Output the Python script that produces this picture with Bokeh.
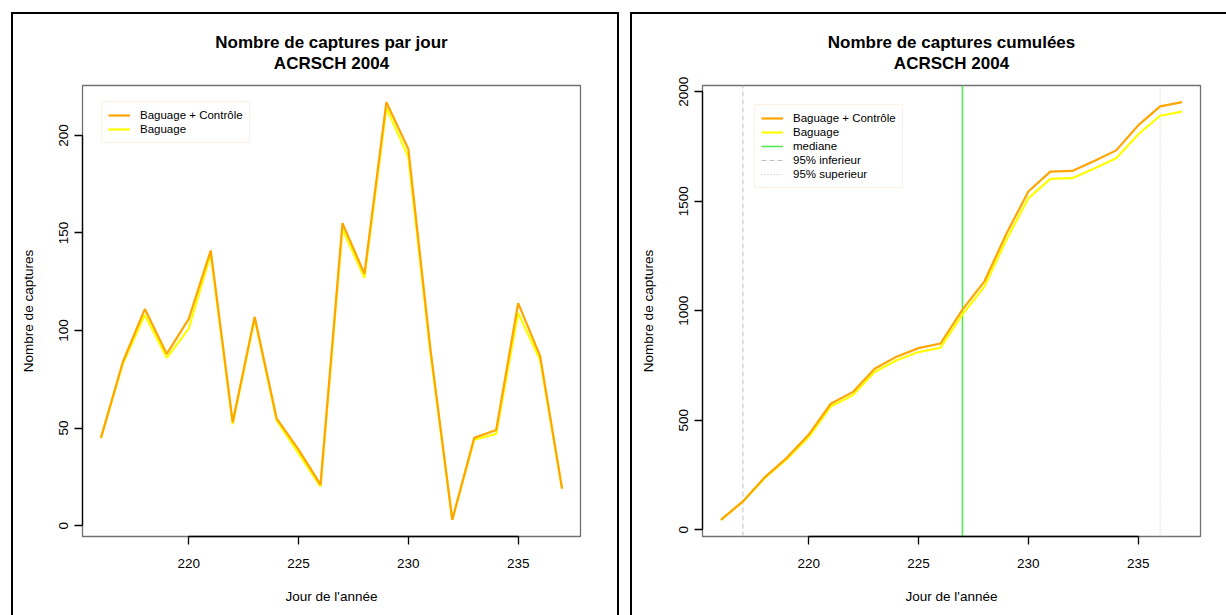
from bokeh.plotting import figure
from bokeh.models import (Range1d, FixedTicker, LinearAxis, Title, Legend,
                          LegendItem, Spacer)
from bokeh.layouts import row, column
from bokeh.embed import file_html
from bokeh.resources import INLINE

# Jours de l'année couverts par la session
jours = [216, 217, 218, 219, 220, 221, 222, 223, 224, 225, 226,
         227, 228, 229, 230, 231, 232, 233, 234, 235, 236, 237]

# Captures quotidiennes
captures_total = [45, 84, 111, 88, 106, 141, 53, 107, 55, 39, 21,
                  155, 129, 217, 193, 91, 3, 45, 49, 114, 87, 19]
captures_baguage = [45, 83, 108, 86, 101, 139, 52, 106, 54, 37, 20,
                    152, 127, 214, 189, 89, 3, 44, 47, 109, 85, 19]

# Captures cumulées
cumul_total = [45, 129, 240, 328, 434, 575, 628, 735, 790, 829, 850,
               1005, 1134, 1351, 1544, 1635, 1638, 1683, 1732, 1846, 1933, 1952]
cumul_baguage = [45, 128, 236, 322, 423, 562, 614, 720, 774, 811, 831,
                 983, 1110, 1324, 1513, 1602, 1605, 1649, 1696, 1805, 1890, 1909]

# Jours du passage : borne inférieure 95 %, médiane, borne supérieure 95 %
jour_inf = 217
jour_median = 227
jour_sup = 236

ticks_x = [220, 225, 230, 235]
ticks_y_jour = [0, 50, 100, 150, 200]
ticks_y_cumul = [0, 500, 1000, 1500, 2000]

FONT = "Liberation Sans"
ORANGE = "#ffa500"
JAUNE = "#ffff00"
VERT = "#55e855"
GRIS = "#c0c0c0"
BORD_LEGENDE = "#fde3c8"
TRAIT = "2px solid black"


def etendue(vals):
    lo, hi = min(vals), max(vals)
    d = 0.04 * (hi - lo)
    return Range1d(lo - d, hi + d)


def panneau(width, b_left, b_right, y_range, ticks_y, titre):
    p = figure(width=width, height=601, x_range=etendue(jours),
               y_range=y_range, title=None, toolbar_location=None,
               output_backend="svg", x_axis_type=None, y_axis_type=None,
               min_border_left=b_left, min_border_right=b_right,
               min_border_top=71, min_border_bottom=79,
               background_fill_color="white", border_fill_color="white",
               outline_line_color="#707070", outline_line_width=1.3)

    xaxis = LinearAxis(ticker=FixedTicker(ticks=ticks_x),
                       bounds=(ticks_x[0], ticks_x[-1]),
                       axis_label="Jour de l'année")
    yaxis = LinearAxis(ticker=FixedTicker(ticks=ticks_y),
                       bounds=(ticks_y[0], ticks_y[-1]),
                       axis_label="Nombre de captures",
                       major_label_orientation="vertical")
    for ax in (xaxis, yaxis):
        ax.axis_line_color = "black"
        ax.axis_line_width = 1.3
        ax.major_tick_line_color = "black"
        ax.major_tick_line_width = 1.3
        ax.major_tick_out = 8
        ax.major_tick_in = 0
        ax.minor_tick_out = 0
        ax.minor_tick_in = 0
        ax.major_label_text_font = FONT
        ax.major_label_text_font_size = "13.5px"
        ax.major_label_text_color = "black"
        ax.axis_label_text_font = FONT
        ax.axis_label_text_font_size = "13.5px"
        ax.axis_label_text_font_style = "normal"
        ax.axis_label_text_color = "black"
    xaxis.major_label_standoff = 14
    xaxis.axis_label_standoff = 18
    yaxis.major_label_standoff = 6
    yaxis.axis_label_standoff = 21
    p.add_layout(xaxis, "below")
    p.add_layout(yaxis, "left")

    # titre sur deux lignes ; une ligne vide écarte le titre du cadre
    p.add_layout(Title(text=" ", text_font_size="4px", standoff=6), "above")
    for texte in ("ACRSCH 2004", titre):
        p.add_layout(Title(text=texte, align="center", standoff=0,
                           text_font=FONT, text_font_size="17px",
                           text_font_style="bold", text_color="black"),
                     "above")
    return p


def legende(items, loc):
    return Legend(items=items, location=loc, margin=0, padding=6, spacing=0,
                  label_height=14, glyph_height=14, glyph_width=22,
                  label_standoff=10, label_text_font=FONT,
                  label_text_font_size="11.5px", label_text_color="black",
                  border_line_color=BORD_LEGENDE, border_line_width=1,
                  background_fill_color="white", background_fill_alpha=1)


# --- Captures par jour ---
p1 = panneau(604, 69, 37, etendue(captures_total), ticks_y_jour,
             "Nombre de captures par jour")
r_jaune1 = p1.line(jours, captures_baguage, line_color=JAUNE, line_width=2.2)
r_orange1 = p1.line(jours, captures_total, line_color=ORANGE, line_width=2.2)
p1.add_layout(legende([
    LegendItem(label="Baguage + Contrôle", renderers=[r_orange1]),
    LegendItem(label="Baguage", renderers=[r_jaune1]),
], (19, 393)))

# --- Captures cumulées ---
y_cumul = etendue(cumul_total)
p2 = panneau(594, 70, 26, y_cumul, ticks_y_cumul,
             "Nombre de captures cumulées")
haut_bas = [y_cumul.start, y_cumul.end]
r_inf = p2.line([jour_inf, jour_inf], haut_bas, line_color=GRIS,
                line_width=1, line_dash="5 3")
r_sup = p2.line([jour_sup, jour_sup], haut_bas, line_color=GRIS,
                line_width=1, line_dash="1 2")
r_med = p2.line([jour_median, jour_median], haut_bas, line_color=VERT,
                line_width=1.6)
r_jaune2 = p2.line(jours, cumul_baguage, line_color=JAUNE, line_width=2.2)
r_orange2 = p2.line(jours, cumul_total, line_color=ORANGE, line_width=2.2)
p2.add_layout(legende([
    LegendItem(label="Baguage + Contrôle", renderers=[r_orange2]),
    LegendItem(label="Baguage", renderers=[r_jaune2]),
    LegendItem(label="mediane", renderers=[r_med]),
    LegendItem(label="95% inferieur", renderers=[r_inf]),
    LegendItem(label="95% superieur", renderers=[r_sup]),
], (52, 348)))

# cadres noirs autour de chaque figure
cadre1 = column(p1, styles={"border-left": TRAIT, "border-top": TRAIT,
                            "border-right": TRAIT})
cadre2 = column(p2, styles={"border-left": TRAIT, "border-top": TRAIT})

page = column(Spacer(height=12),
              row(Spacer(width=11), cadre1, Spacer(width=11), cadre2))
open("out.html", "w").write(file_html(page, INLINE))
